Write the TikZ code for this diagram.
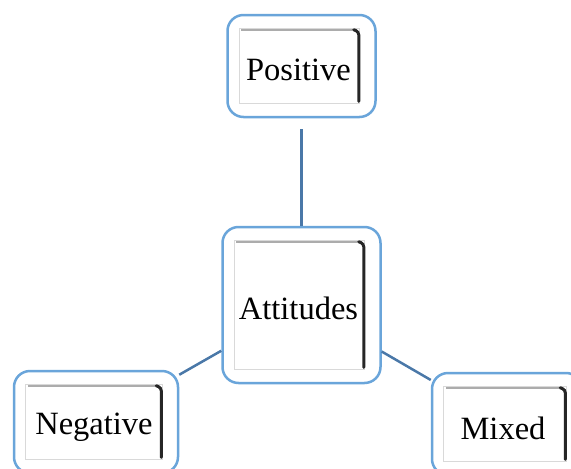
\documentclass[tikz,border=0pt]{standalone}
\usepackage{fontspec}
\setmainfont{Liberation Serif}
\usetikzlibrary{calc}
\definecolor{outerblue}{HTML}{6AA5DA}
\definecolor{linkblue}{HTML}{4A78A8}
\tikzset{
  outerbox/.style={draw=outerblue, line width=2.5pt, rounded corners=16pt, fill=white,
    inner sep=0pt},
  boxtext/.style={inner sep=0pt, font=\fontsize{32.5}{38}\selectfont},
  link/.style={draw=linkblue, line width=2.5pt},
  innerframe/.style={draw=gray!30, line width=0.7pt},
  topshade/.style={draw=gray!65, line width=2.2pt},
  rightshade/.style={draw=black!85, line width=3pt, line cap=round}
}
\newcommand\innerdeco[1]{%
  \draw[innerframe] ($(#1.north west)+(13,15)$) rectangle ($(#1.south east)+(-17,-15)$);
  \draw[topshade] ($(#1.north west)+(15,16)$) -- ($(#1.north east)+(-21,16)$);
  \draw[rightshade, rounded corners=3pt] ($(#1.north east)+(-23,16)$) -- ($(#1.north east)+(-18,18)$) -- ($(#1.south east)+(-18,-17)$);
}
\begin{document}
\begin{tikzpicture}[x=1pt,y=-1pt]
  \useasboundingbox (0,0) rectangle (571,469);
  \clip (0,0) rectangle (571,469);
  \node[outerbox, minimum width=148pt, minimum height=102pt] (pos) at (301.5,66) {};
  \node[outerbox, minimum width=158pt, minimum height=156pt] (att) at (301.5,305) {};
  \node[outerbox, minimum width=164pt, minimum height=102pt] (neg) at (96,422) {};
  \node[outerbox, minimum width=150pt, minimum height=102pt] (mix) at (507,424) {};
  \innerdeco{pos}
  \innerdeco{att}
  \innerdeco{neg}
  \innerdeco{mix}
  \node[boxtext] (posT) at ($(pos)+(-3,4)$) {Positive};
  \node[boxtext] (attT) at ($(att)+(-3,3)$) {Attitudes};
  \node[boxtext] (negT) at ($(neg)+(-2,5)$) {Negative};
  \node[boxtext] (mixT) at ($(mix)+(-4,4)$) {Mixed};
  \draw[link, shorten <=11pt] (pos) -- (att);
  \draw[link] (att) -- (neg);
  \draw[link] (att) -- (mix);
\end{tikzpicture}
\end{document}
